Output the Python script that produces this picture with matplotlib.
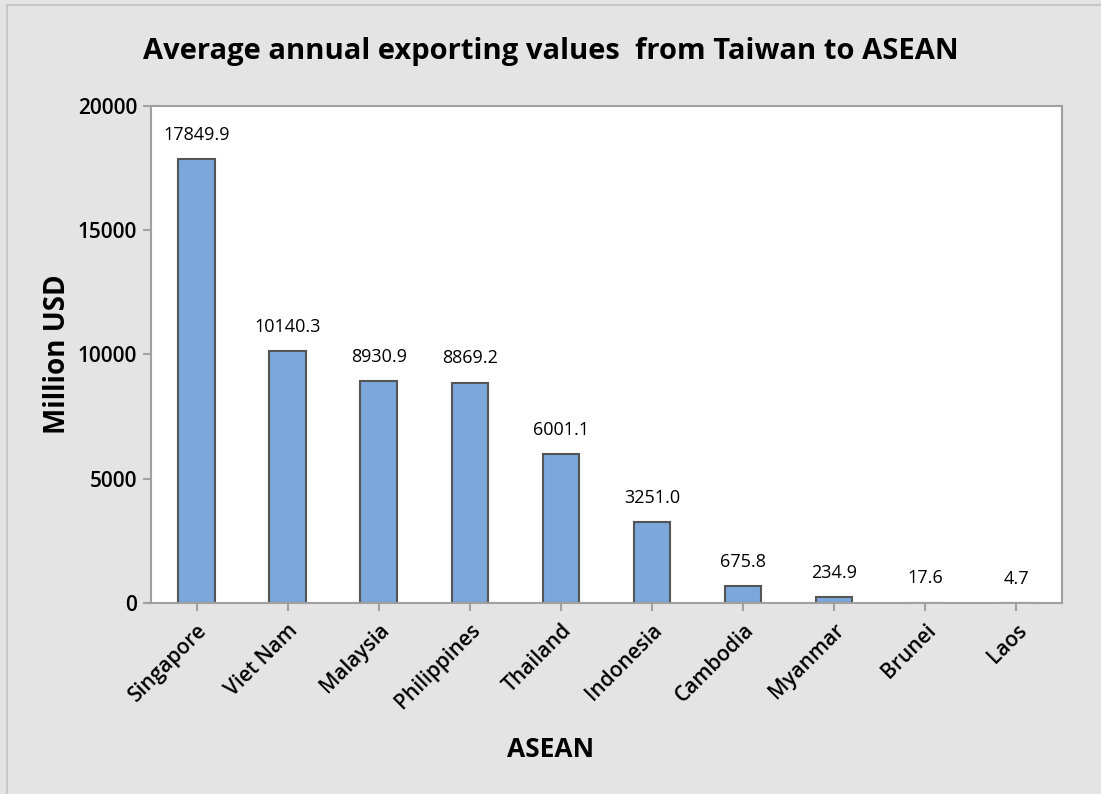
import matplotlib.pyplot as plt
from matplotlib.lines import Line2D

countries = ["Singapore", "Viet Nam", "Malaysia", "Philippines", "Thailand",
             "Indonesia", "Cambodia", "Myanmar", "Brunei", "Laos"]
values = [17849.9, 10140.3, 8930.9, 8869.2, 6001.1, 3251.0, 675.8, 234.9, 17.6, 4.7]
yticks = [0, 5000, 10000, 15000, 20000]

plt.rcParams["font.family"] = ["Open Sans", "DejaVu Sans"]

bg = "#e4e4e4"
fig = plt.figure(figsize=(11.01, 7.94), dpi=100, facecolor=bg)
ax = fig.add_axes([0.1371, 0.2406, 0.8275, 0.6259])
ax.set_facecolor("white")

x = list(range(len(countries)))
ax.bar(x, values, width=0.4, color="#7ba7da", edgecolor="#555555", linewidth=1.5, zorder=2)
for xi, v in zip(x, values):
    ax.annotate(f"{v:.1f}", (xi, v), xytext=(0, 11), textcoords="offset points",
                ha="center", va="bottom", fontsize=13)

ax.set_xlim(-0.5, len(countries) - 0.5)
ax.set_ylim(0, 20000)
ax.set_yticks(yticks)
ax.set_yticklabels([str(t) for t in yticks], fontsize=15, fontweight="semibold")
ax.set_xticks(x)
ax.set_xticklabels(countries, rotation=45, ha="right", rotation_mode="anchor",
                   fontsize=15, fontweight="semibold")
ax.tick_params(axis="both", direction="out", length=6, width=1.5, color="#a0a0a0", pad=4)
ax.tick_params(axis="x", pad=6)

for sp in ax.spines.values():
    sp.set_color("#a0a0a0")
    sp.set_linewidth(1.5)

ax.set_ylabel("Million USD", fontsize=20, fontweight="bold", labelpad=4)
fig.text(0.5, 0.056, "ASEAN", ha="center", va="center", fontsize=19, fontweight="bold")
fig.text(0.5, 0.935, "Average annual exporting values  from Taiwan to ASEAN",
         ha="center", va="center", fontsize=21, fontweight="bold")

# outer frame lines (left and top)
fig.add_artist(Line2D([7 / 1101, 7 / 1101], [0, 1 - 5 / 794], transform=fig.transFigure,
                      color="#c8c8c8", linewidth=1.5))
fig.add_artist(Line2D([7 / 1101, 1], [1 - 5 / 794, 1 - 5 / 794], transform=fig.transFigure,
                      color="#c8c8c8", linewidth=1.5))

fig.savefig("out.png", dpi=100, facecolor=bg)
